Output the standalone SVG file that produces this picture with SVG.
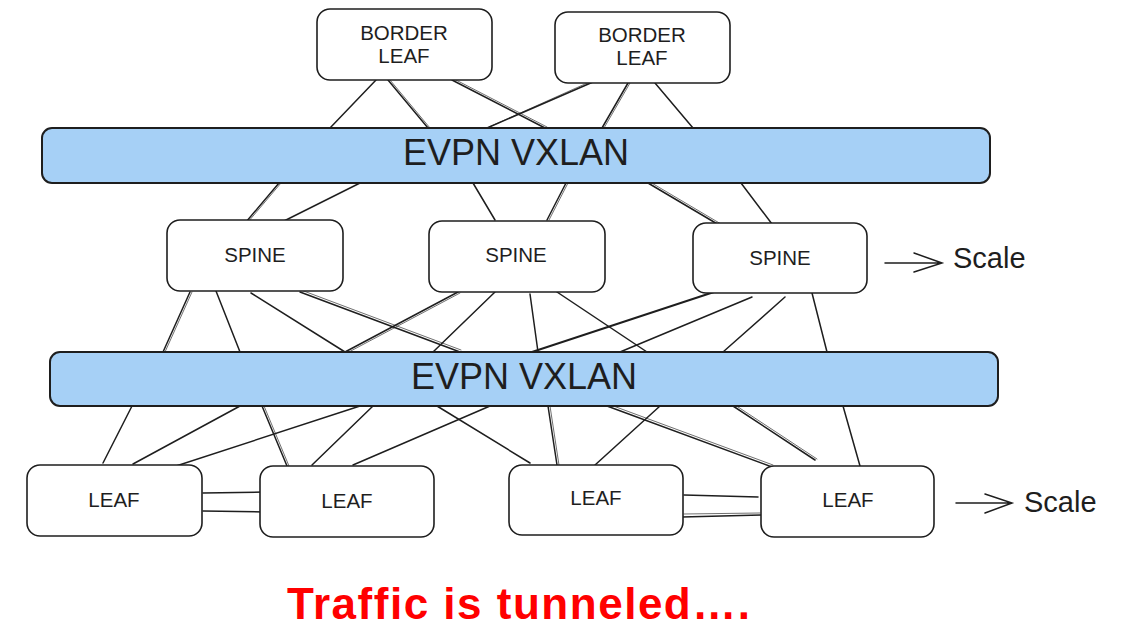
<svg xmlns="http://www.w3.org/2000/svg" width="1125" height="627" viewBox="0 0 1125 627">
  <style>
    .box { fill: #ffffff; stroke: #1e1e1e; stroke-width: 1.6; }
    .bar { fill: #a6d0f6; stroke: #1e1e1e; stroke-width: 2; }
    .ln { stroke: #1e1e1e; stroke-width: 1.5; fill: none; stroke-linecap: round; }
    .ln2 { stroke: #1e1e1e; stroke-width: 0.8; fill: none; stroke-linecap: round; opacity: 0.8; }
    .lbl { font-family: "Liberation Sans", Arial, Helvetica, sans-serif; fill: #1e1e1e; text-anchor: middle; }
    .sm { font-size: 20.5px; }
    .big { font-size: 36px; }
    .scale { font-family: "Liberation Sans", Arial, Helvetica, sans-serif; fill: #1e1e1e; font-size: 29px; }
    .note { font-family: "Liberation Sans", Arial, Helvetica, sans-serif; font-weight: bold; fill: #ff0000; font-size: 44px; }
  </style>

  <!-- connectors -->
  <g id="connectors">
    <!-- border leaves to upper fabric -->
    <line class="ln" x1="376" y1="80" x2="330" y2="128"/>
    <line class="ln" x1="388" y1="80" x2="428" y2="128"/>
    <line class="ln2" x1="390" y1="80" x2="430" y2="128"/>
    <line class="ln" x1="452" y1="80" x2="545" y2="128"/>
    <line class="ln2" x1="454" y1="79" x2="547" y2="127"/>
    <line class="ln" x1="593" y1="82" x2="487" y2="128"/>
    <line class="ln2" x1="594" y1="80" x2="489" y2="127"/>
    <line class="ln" x1="628" y1="83" x2="602" y2="128"/>
    <line class="ln2" x1="630" y1="83" x2="604" y2="128"/>
    <line class="ln" x1="655" y1="83" x2="693" y2="128"/>

    <!-- upper fabric to spines -->
    <line class="ln" x1="279" y1="183" x2="246" y2="222"/>
    <line class="ln2" x1="281" y1="183" x2="248" y2="222"/>
    <line class="ln" x1="360" y1="183" x2="284" y2="221"/>
    <line class="ln" x1="473" y1="183" x2="495" y2="220"/>
    <line class="ln" x1="566" y1="183" x2="547" y2="220"/>
    <line class="ln2" x1="568" y1="183" x2="549" y2="220"/>
    <line class="ln" x1="648" y1="183" x2="719" y2="225"/>
    <line class="ln2" x1="650" y1="182" x2="721" y2="224"/>
    <line class="ln" x1="741" y1="183" x2="772" y2="224"/>

    <!-- spines to lower fabric -->
    <line class="ln" x1="190" y1="292" x2="163" y2="352"/>
    <line class="ln2" x1="192" y1="292" x2="165" y2="352"/>
    <line class="ln" x1="216" y1="291" x2="240" y2="352"/>
    <line class="ln" x1="251" y1="293" x2="345" y2="352"/>
    <line class="ln" x1="300" y1="292" x2="460" y2="352"/>
    <line class="ln2" x1="301" y1="290" x2="461" y2="350"/>
    <line class="ln" x1="458" y1="292" x2="345" y2="352"/>
    <line class="ln2" x1="460" y1="293" x2="347" y2="353"/>
    <line class="ln" x1="495" y1="292" x2="433" y2="352"/>
    <line class="ln" x1="530" y1="294" x2="538" y2="352"/>
    <line class="ln" x1="557" y1="292" x2="647" y2="352"/>
    <line class="ln" x1="717" y1="291" x2="532" y2="352" style="stroke-width:1.9"/>
    <line class="ln" x1="752" y1="297" x2="620" y2="352"/>
    <line class="ln" x1="785" y1="297" x2="723" y2="352"/>
    <line class="ln" x1="812" y1="293" x2="827" y2="352"/>

    <!-- lower fabric to leaves -->
    <line class="ln" x1="132" y1="406" x2="103" y2="463"/>
    <line class="ln" x1="240" y1="406" x2="133" y2="464"/>
    <line class="ln" x1="360" y1="406" x2="173" y2="467"/>
    <line class="ln" x1="262" y1="406" x2="287" y2="466"/>
    <line class="ln2" x1="264" y1="406" x2="289" y2="466"/>
    <line class="ln" x1="373" y1="406" x2="312" y2="465"/>
    <line class="ln" x1="490" y1="406" x2="353" y2="465"/>
    <line class="ln" x1="437" y1="406" x2="530" y2="463"/>
    <line class="ln" x1="548" y1="406" x2="557" y2="465"/>
    <line class="ln2" x1="550" y1="406" x2="559" y2="465"/>
    <line class="ln" x1="660" y1="406" x2="595" y2="465"/>
    <line class="ln" x1="607" y1="406" x2="772" y2="467"/>
    <line class="ln2" x1="608" y1="404" x2="773" y2="465"/>
    <line class="ln" x1="733" y1="406" x2="815" y2="460"/>
    <line class="ln2" x1="735" y1="405" x2="817" y2="459"/>
    <line class="ln" x1="843" y1="406" x2="860" y2="466"/>

    <!-- leaf pair links -->
    <line class="ln" x1="203" y1="493" x2="264" y2="492"/>
    <line class="ln" x1="203" y1="511" x2="264" y2="512"/>
    <line class="ln" x1="684" y1="495" x2="758" y2="497"/>
    <line class="ln" x1="682" y1="517" x2="761" y2="515"/>
    <line class="ln2" x1="684" y1="514" x2="760" y2="513"/>

    <!-- scale arrows -->
    <path class="ln" d="M885 263 H942 M914 253 L942 263 L914 272"/>
    <path class="ln" d="M956 503 H1012 M985 494 L1012 503 L985 513"/>
  </g>

  <!-- fabrics -->
  <g id="fabric-upper">
    <rect class="bar" x="42" y="128" width="948" height="55" rx="10"/>
    <text class="lbl big" x="516" y="165">EVPN VXLAN</text>
  </g>
  <g id="fabric-lower">
    <rect class="bar" x="50" y="352" width="948" height="54" rx="10"/>
    <text class="lbl big" x="524" y="389">EVPN VXLAN</text>
  </g>

  <!-- border leaves -->
  <g id="border-leaf-1">
    <rect class="box" x="317" y="9" width="175" height="71" rx="13"/>
    <text class="lbl sm" x="404" y="40">BORDER</text>
    <text class="lbl sm" x="404" y="63">LEAF</text>
  </g>
  <g id="border-leaf-2">
    <rect class="box" x="555" y="12" width="175" height="71" rx="13"/>
    <text class="lbl sm" x="642" y="42">BORDER</text>
    <text class="lbl sm" x="642" y="65">LEAF</text>
  </g>

  <!-- spines -->
  <g id="spine-1">
    <rect class="box" x="167" y="220" width="176" height="71" rx="13"/>
    <text class="lbl sm" x="255" y="262">SPINE</text>
  </g>
  <g id="spine-2">
    <rect class="box" x="429" y="221" width="176" height="71" rx="13"/>
    <text class="lbl sm" x="516" y="262">SPINE</text>
  </g>
  <g id="spine-3">
    <rect class="box" x="693" y="223" width="174" height="70" rx="13"/>
    <text class="lbl sm" x="780" y="265">SPINE</text>
  </g>

  <!-- leaves -->
  <g id="leaf-1">
    <rect class="box" x="27" y="465" width="175" height="71" rx="13"/>
    <text class="lbl sm" x="114" y="507">LEAF</text>
  </g>
  <g id="leaf-2">
    <rect class="box" x="260" y="466" width="174" height="71" rx="13"/>
    <text class="lbl sm" x="347" y="508">LEAF</text>
  </g>
  <g id="leaf-3">
    <rect class="box" x="509" y="465" width="174" height="70" rx="13"/>
    <text class="lbl sm" x="596" y="505">LEAF</text>
  </g>
  <g id="leaf-4">
    <rect class="box" x="761" y="466" width="173" height="71" rx="13"/>
    <text class="lbl sm" x="848" y="507">LEAF</text>
  </g>

  <!-- side notes -->
  <text class="scale" x="953" y="268">Scale</text>
  <text class="scale" x="1024" y="512">Scale</text>
  <text class="note" x="287" y="619" textLength="463" lengthAdjust="spacing">Traffic is tunneled….</text>
</svg>
